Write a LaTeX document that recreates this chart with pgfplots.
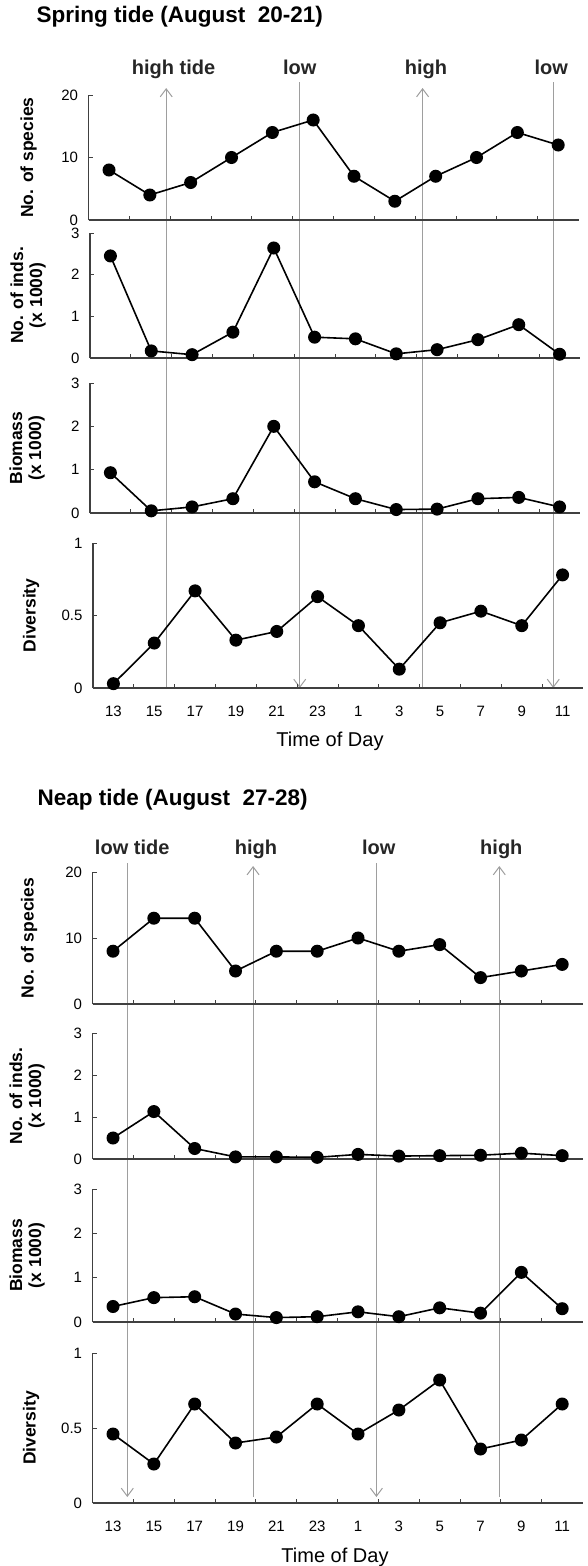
\documentclass[border=0pt]{standalone}
\usepackage{pgfplots}
\pgfplotsset{compat=1.18}
\usepackage{fontspec}
\setmainfont{Liberation Sans}
\usetikzlibrary{arrows.meta}

\pgfplotsset{
  panel/.style={
    scale only axis, width=490pt,
    xmin=-0.5, xmax=11.5,
    axis x line*=bottom, axis y line*=left,
    axis line style={draw=black!75, line width=1.3pt, -},
    xtick={0.5,1.5,...,10.5}, xticklabels={},
    tick align=inside, major tick length=4pt,
    tick style={black!75, line width=1pt},
    yticklabel style={font=\fontsize{15}{15}\selectfont, xshift=-7pt},
    ylabel style={font=\fontsize{17.5}{19}\selectfont\bfseries, align=center,
      at={(axis description cs:0,0.5)}, anchor=center},
    clip=false,
    /pgf/number format/assume math mode=true,
  },
  ylx/.style={ylabel style={yshift=#1}},
  bottompanel/.style={
    extra x ticks={0,1,...,11},
    extra x tick labels={13,15,17,19,21,23,1,3,5,7,9,11},
    extra x tick style={major tick length=0pt,
      xticklabel style={font=\fontsize{15}{15}\selectfont, anchor=north,
        text height=11pt, text depth=0pt, yshift=-14pt}},
  },
  ser/.style={black, line width=1.6pt, mark=*, mark size=5.7pt,
    mark options={solid, fill=black}},
  overlaybox/.style={scale only axis, width=490pt, xmin=-0.5, xmax=11.5,
    hide axis, clip=false},
}
\tikzset{
  tide/.style={draw=black!38, line width=0.9pt},
  tidearrow/.style={tide, -{Straight Barb[length=8pt,width=12pt,line width=1pt]}},
  tidelab/.style={font=\fontsize{20}{20}\selectfont\bfseries, text=black!85, anchor=base},
}

\begin{document}
\begin{tikzpicture}
\useasboundingbox (0pt,0pt) rectangle (587pt,-1566pt);

% ---------------- Spring tide ----------------
\node[anchor=west, font=\fontsize{22.5}{22}\selectfont\bfseries] at (33pt,-17pt) {Spring tide (August\ \ 20-21)};

\begin{axis}[overlaybox, at={(88.6pt,-700pt)}, anchor=south west, height=700pt, ymin=-700, ymax=0]
\addplot[draw=none] coordinates {(0,-100)};
\draw[tidearrow] (axis cs:1.40,-688) -- (axis cs:1.40,-88);
\draw[tidearrow] (axis cs:4.67,-82) -- (axis cs:4.67,-688);
\draw[tidearrow] (axis cs:7.68,-688) -- (axis cs:7.68,-88);
\draw[tidearrow] (axis cs:10.88,-82) -- (axis cs:10.88,-688);
\node[tidelab] at (axis cs:1.58,-74) {high tide};
\node[tidelab] at (axis cs:4.67,-74) {low};
\node[tidelab] at (axis cs:7.76,-74) {high};
\node[tidelab] at (axis cs:10.83,-74) {low};
\end{axis}

\begin{axis}[panel, ylx=60pt, at={(88.6pt,-220pt)}, anchor=south west, height=125pt,
  ymin=0, ymax=20, ytick={0,10,20}, ylabel={No. of species}]
\addplot[ser] coordinates {(0,8)(1,4)(2,6)(3,10)(4,14)(5,16)(6,7)(7,3)(8,7)(9,10)(10,14)(11,12)};
\end{axis}

\begin{axis}[panel, ylx=62pt, at={(90pt,-358pt)}, anchor=south west, height=125pt,
  ymin=0, ymax=3, ytick={0,1,2,3}, ylabel={No. of inds.\\(x 1000)}]
\addplot[ser] coordinates {(0,2.45)(1,0.17)(2,0.08)(3,0.62)(4,2.64)(5,0.50)(6,0.46)(7,0.10)(8,0.20)(9,0.44)(10,0.80)(11,0.09)};
\end{axis}

\begin{axis}[panel, ylx=63pt, at={(90pt,-513pt)}, anchor=south west, height=130pt,
  ymin=0, ymax=3, ytick={0,1,2,3}, ylabel={Biomass\\(x 1000)}]
\addplot[ser] coordinates {(0,0.93)(1,0.05)(2,0.14)(3,0.33)(4,2.0)(5,0.72)(6,0.33)(7,0.08)(8,0.09)(9,0.33)(10,0.36)(11,0.14)};
\end{axis}

\begin{axis}[panel, bottompanel, ylx=62pt, at={(93pt,-688pt)}, anchor=south west, height=145pt,
  ymin=0, ymax=1, ytick={0,0.5,1}, ylabel={Diversity}]
\addplot[ser] coordinates {(0,0.03)(1,0.31)(2,0.67)(3,0.33)(4,0.39)(5,0.63)(6,0.43)(7,0.13)(8,0.45)(9,0.53)(10,0.43)(11,0.78)};
\end{axis}

\node[font=\fontsize{20}{20}\selectfont] at (330pt,-741pt) {Time of Day};

% ---------------- Neap tide ----------------
\node[anchor=west, font=\fontsize{22.5}{22}\selectfont\bfseries] at (34pt,-800pt) {Neap tide (August\ \ 27-28)};

\begin{axis}[overlaybox, at={(92.6pt,-1566pt)}, anchor=south west, height=806pt, ymin=-1566, ymax=-760]
\addplot[draw=none] coordinates {(0,-1000)};
\draw[tidearrow] (axis cs:0.35,-863) -- (axis cs:0.35,-1497);
\draw[tidearrow] (axis cs:3.43,-1497) -- (axis cs:3.43,-866);
\draw[tidearrow] (axis cs:6.45,-863) -- (axis cs:6.45,-1497);
\draw[tidearrow] (axis cs:9.46,-1497) -- (axis cs:9.46,-866);
\node[tidelab] at (axis cs:0.47,-854) {low tide};
\node[tidelab] at (axis cs:3.50,-854) {high};
\node[tidelab] at (axis cs:6.51,-854) {low};
\node[tidelab] at (axis cs:9.51,-854) {high};
\end{axis}

\begin{axis}[panel, ylx=63.6pt, at={(92.6pt,-1004pt)}, anchor=south west, height=132pt,
  ymin=0, ymax=20, ytick={0,10,20}, ylabel={No. of species}]
\addplot[ser] coordinates {(0,8)(1,13)(2,13)(3,5)(4,8)(5,8)(6,10)(7,8)(8,9)(9,4)(10,5)(11,6)};
\end{axis}

\begin{axis}[panel, ylx=65.6pt, at={(92.6pt,-1159pt)}, anchor=south west, height=126pt,
  ymin=0, ymax=3, ytick={0,1,2,3}, ylabel={No. of inds.\\(x 1000)}]
\addplot[ser] coordinates {(0,0.50)(1,1.13)(2,0.25)(3,0.05)(4,0.05)(5,0.04)(6,0.11)(7,0.07)(8,0.08)(9,0.09)(10,0.14)(11,0.08)};
\end{axis}

\begin{axis}[panel, ylx=65.6pt, at={(92.6pt,-1322pt)}, anchor=south west, height=133pt,
  ymin=0, ymax=3, ytick={0,1,2,3}, ylabel={Biomass\\(x 1000)}]
\addplot[ser] coordinates {(0,0.35)(1,0.55)(2,0.57)(3,0.18)(4,0.10)(5,0.12)(6,0.23)(7,0.12)(8,0.32)(9,0.20)(10,1.12)(11,0.30)};
\end{axis}

\begin{axis}[panel, bottompanel, ylx=61.6pt, at={(92.6pt,-1503pt)}, anchor=south west, height=150pt,
  ymin=0, ymax=1, ytick={0,0.5,1}, ylabel={Diversity}]
\addplot[ser] coordinates {(0,0.46)(1,0.26)(2,0.66)(3,0.40)(4,0.44)(5,0.66)(6,0.46)(7,0.62)(8,0.82)(9,0.36)(10,0.42)(11,0.66)};
\end{axis}

\node[font=\fontsize{20}{20}\selectfont] at (335pt,-1557pt) {Time of Day};

\end{tikzpicture}
\end{document}
